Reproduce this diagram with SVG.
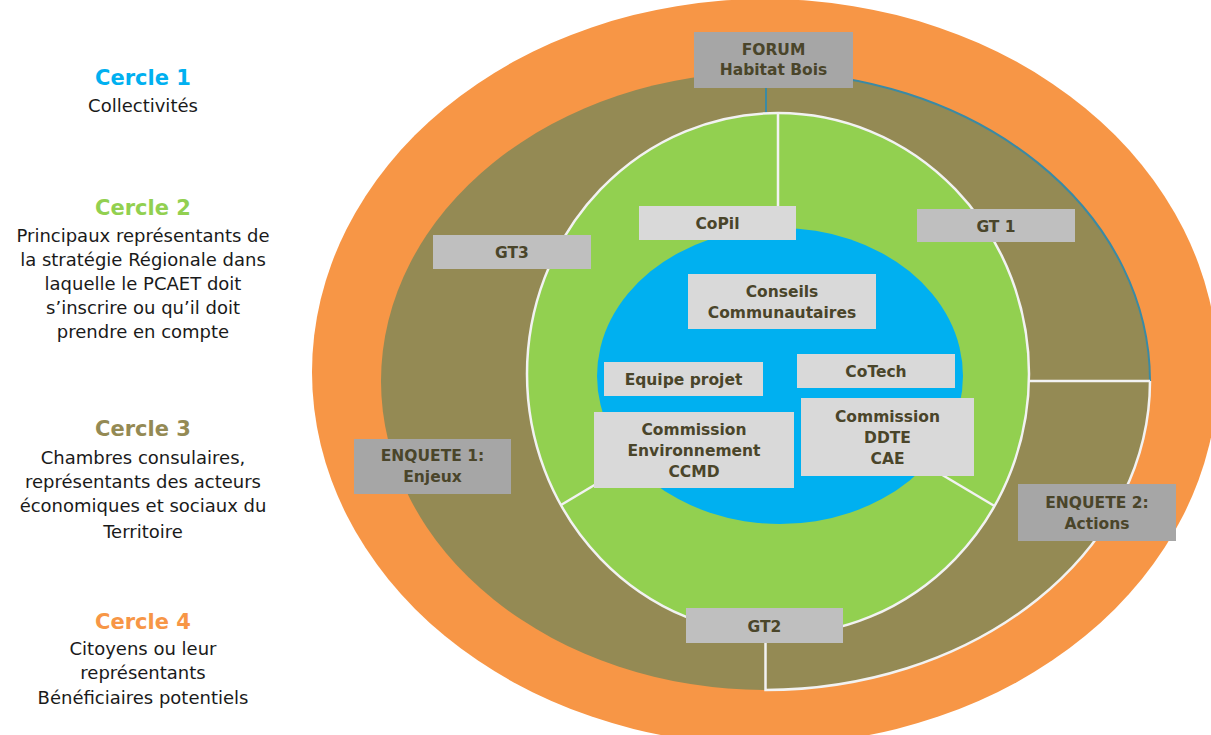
<svg xmlns="http://www.w3.org/2000/svg" width="1211" height="735" viewBox="0 0 1211 735">
<style>
.bt{font-family:"DejaVu Sans","Liberation Sans",sans-serif;font-weight:bold;font-size:15.5px;fill:#4A452A;text-anchor:middle}
.ct{font-family:"DejaVu Sans","Liberation Sans",sans-serif;font-weight:bold;font-size:21px;text-anchor:middle}
.lt{font-family:"DejaVu Sans","Liberation Sans",sans-serif;font-size:18px;fill:#1a1a1a;text-anchor:middle}
.b1{fill:#A6A6A6}
.b2{fill:#BFBFBF}
.b3{fill:#D9D9D9}
.wl{stroke:#F2F2F2;stroke-width:2.5;fill:none}
.tl{stroke:#3A8AA5;stroke-width:2;fill:none}
</style>
<rect width="1211" height="735" fill="#FFFFFF"/>
<g id="legend">
<text class="ct" x="143" y="85" fill="#00B0F0">Cercle 1</text>
<text class="lt" x="143" y="112">Collectivités</text>
<text class="ct" x="143" y="215" fill="#92D050">Cercle 2</text>
<text class="lt" x="143" y="242">Principaux représentants de</text>
<text class="lt" x="143" y="266">la stratégie Régionale dans</text>
<text class="lt" x="143" y="290">laquelle le PCAET doit</text>
<text class="lt" x="143" y="314">s’inscrire ou qu’il doit</text>
<text class="lt" x="143" y="338">prendre en compte</text>
<text class="ct" x="143" y="436" fill="#948A54">Cercle 3</text>
<text class="lt" x="143" y="464">Chambres consulaires,</text>
<text class="lt" x="143" y="488">représentants des acteurs</text>
<text class="lt" x="143" y="512">économiques et sociaux du</text>
<text class="lt" x="143" y="538">Territoire</text>
<text class="ct" x="143" y="629" fill="#F79646">Cercle 4</text>
<text class="lt" x="143" y="655">Citoyens ou leur</text>
<text class="lt" x="143" y="679">représentants</text>
<text class="lt" x="143" y="704">Bénéficiaires potentiels</text>
</g>
<g id="circles">
<ellipse id="cercle4" cx="765" cy="372" rx="453" ry="373" fill="#F79646"/>
<ellipse id="cercle3" cx="765.5" cy="381" rx="384.5" ry="309" fill="#948A54"/>
</g>
<g id="connectors">
<path class="tl" d="M766 113 L766 72 A384.5 309 0 0 1 1150 381"/>
<path class="wl" d="M1150 381 A384.5 309 0 0 1 765.5 690 L765.5 630"/>
<line class="wl" x1="1029" y1="381" x2="1150" y2="381"/>
</g>
<g id="cercle2">
<ellipse cx="778" cy="374" rx="251" ry="261" fill="#92D050" stroke="#F2F2F2" stroke-width="2.5"/>
<line class="wl" x1="778" y1="113" x2="778" y2="260"/>
<line class="wl" x1="561" y1="505" x2="700" y2="422"/>
<line class="wl" x1="994.5" y1="506" x2="860" y2="426"/>
</g>
<g id="cercle1">
<ellipse cx="780" cy="376" rx="183" ry="148" fill="#00B0F0"/>
</g>
<g id="forum"><rect class="b1" x="694" y="32" width="159" height="56"/><text class="bt" x="773.5" y="55">FORUM</text><text class="bt" x="773.5" y="75">Habitat Bois</text></g>
<g id="copil"><rect class="b3" x="639" y="206" width="157" height="34"/><text class="bt" x="717.5" y="229">CoPil</text></g>
<g id="gt1"><rect class="b2" x="917" y="209" width="158" height="33"/><text class="bt" x="996" y="232">GT 1</text></g>
<g id="gt3"><rect class="b2" x="433" y="235" width="158" height="34"/><text class="bt" x="512" y="258">GT3</text></g>
<g id="conseils"><rect class="b3" x="688" y="274" width="188" height="55"/><text class="bt" x="782" y="297">Conseils</text><text class="bt" x="782" y="318">Communautaires</text></g>
<g id="equipe"><rect class="b3" x="604" y="362" width="159" height="34"/><text class="bt" x="683.5" y="385">Equipe projet</text></g>
<g id="cotech"><rect class="b3" x="797" y="354" width="158" height="34"/><text class="bt" x="876" y="377">CoTech</text></g>
<g id="commission-env"><rect class="b3" x="594" y="412" width="200" height="76"/><text class="bt" x="694" y="435">Commission</text><text class="bt" x="694" y="456">Environnement</text><text class="bt" x="694" y="477">CCMD</text></g>
<g id="commission-ddte"><rect class="b3" x="801" y="398" width="173" height="78"/><text class="bt" x="887.5" y="422">Commission</text><text class="bt" x="887.5" y="443">DDTE</text><text class="bt" x="887.5" y="464">CAE</text></g>
<g id="enquete1"><rect class="b1" x="354" y="439" width="157" height="55"/><text class="bt" x="432.5" y="461">ENQUETE 1:</text><text class="bt" x="432.5" y="482">Enjeux</text></g>
<g id="enquete2"><rect class="b1" x="1018" y="484" width="158" height="57"/><text class="bt" x="1097" y="508">ENQUETE 2:</text><text class="bt" x="1097" y="529">Actions</text></g>
<g id="gt2"><rect class="b2" x="686" y="608" width="157" height="35"/><text class="bt" x="764.5" y="632">GT2</text></g>
</svg>
